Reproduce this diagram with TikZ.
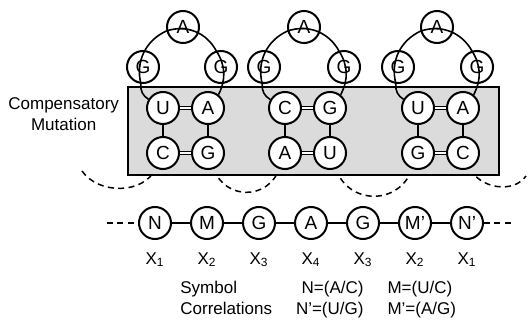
\documentclass[tikz,border=0pt]{standalone}
\usepackage{fontspec}
\setmainfont{Liberation Sans}
\usetikzlibrary{positioning,backgrounds}

\begin{document}
\begin{tikzpicture}[x=0.5pt,y=0.5pt,
    roundnode/.style = {circle, draw=black, fill=white, line width=1pt, minimum size=16pt, inner sep=0pt, font=\fontsize{9.5}{10}\selectfont},
    bond/.style = {line width=0.8pt},
    pairbond/.style = {line width=0.5pt, double, double distance=0.9pt},
    linkline/.style = {line width=0.75pt, dash pattern=on 3pt off 2.2pt},
    sublabel/.style = {font=\fontsize{8.5}{9}\selectfont, inner sep=1pt}]
     \useasboundingbox (0,0) rectangle (529,-320);

     % first hairpin
     \node[roundnode] (u1) at (163,-108) {U};
     \node[roundnode] (a1) [right=5.5pt of u1] {A};
     \node[roundnode] (c1) [below=5.5pt of u1] {C};
     \node[roundnode] (g1) [right=5.5pt of c1] {G};
     \node[roundnode] (gl1) at (143,-67) {G};
     \node[roundnode] (gr1) at (221,-67) {G};
     \node[roundnode] (top1) at (183,-27) {A};

     % second hairpin
     \node[roundnode] (c2) at (285,-108) {C};
     \node[roundnode] (g2) [right=5.5pt of c2] {G};
     \node[roundnode] (a2) [below=5.5pt of c2] {A};
     \node[roundnode] (u2) [right=5.5pt of a2] {U};
     \node[roundnode] (gl2) at (264,-67) {G};
     \node[roundnode] (gr2) at (344,-67) {G};
     \node[roundnode] (top2) at (304,-27) {A};

     % third hairpin
     \node[roundnode] (u3) at (418,-108) {U};
     \node[roundnode] (a3) [right=5.5pt of u3] {A};
     \node[roundnode] (g3) [below=5.5pt of u3] {G};
     \node[roundnode] (c3) [right=5.5pt of g3] {C};
     \node[roundnode] (gl3) at (398,-67) {G};
     \node[roundnode] (gr3) at (477,-67) {G};
     \node[roundnode] (top3) at (437,-27) {A};

     \draw[bond] (u1) to[bend left=33] (gl1) to[bend left=40] (top1) to[bend left=40] (gr1) to[bend left=30] (a1);
     \draw[bond] (c2) to[bend left=33] (gl2) to[bend left=40] (top2) to[bend left=40] (gr2) to[bend left=30] (g2);
     \draw[bond] (u3) to[bend left=33] (gl3) to[bend left=40] (top3) to[bend left=40] (gr3) to[bend left=30] (a3);
     \draw[bond] (u1) -- (c1);
     \draw[bond] (a1) -- (g1);
     \draw[bond] (c2) -- (a2);
     \draw[bond] (g2) -- (u2);
     \draw[bond] (u3) -- (g3);
     \draw[bond] (a3) -- (c3);
     \draw[pairbond] (u1) -- (a1);
     \draw[pairbond] (c1) -- (g1);
     \draw[pairbond] (c2) -- (g2);
     \draw[pairbond] (a2) -- (u2);
     \draw[pairbond] (u3) -- (a3);
     \draw[pairbond] (g3) -- (c3);

     \node[align=center, anchor=east, font=\fontsize{8.5}{10.5}\selectfont] (comp) at (126,-114) {Compensatory\\Mutation};

     % linking strands, under the box
     \coordinate (arcl) at (82,-171);
     \coordinate (arcr) at (526,-176);
     \begin{scope}[on background layer]
          \draw[linkline] (arcl) to[out=-55,in=-115] (c1);
          \draw[linkline] (g1) to[bend right=70, looseness=1.3] (a2);
          \draw[linkline] (u2) to[bend right=70, looseness=1.3] (g3);
          \draw[linkline] (c3) to[out=-65,in=-125] (arcr);
          \draw[line width=0.9pt, fill=black!14] (128,-87) rectangle (499,-175);
     \end{scope}

     % sequence
     \node[roundnode] (s1) at (155,-223) {N};
     \node[roundnode] (s2) [right=9pt of s1] {M};
     \node[roundnode] (s3) [right=9pt of s2] {G};
     \node[roundnode] (s4) [right=9pt of s3] {A};
     \node[roundnode] (s5) [right=9pt of s4] {G};
     \node[roundnode] (s6) [right=9pt of s5] {M’};
     \node[roundnode] (s7) [right=9pt of s6] {N’};
     \coordinate (lend) at (107,-223);
     \coordinate (rend) at (513,-223);
     \draw[linkline] (lend) -- (s1);
     \draw[bond] (s1) -- (s2) -- (s3) -- (s4) -- (s5) -- (s6) -- (s7);
     \draw[linkline] (s7) -- (rend);

     \node[sublabel] (x1) [below=5pt of s1] {X\textsubscript{1}};
     \node[sublabel] (x2) [below=5pt of s2] {X\textsubscript{2}};
     \node[sublabel] (x3) [below=5pt of s3] {X\textsubscript{3}};
     \node[sublabel] (x4) [below=5pt of s4] {X\textsubscript{4}};
     \node[sublabel] (x5) [below=5pt of s5] {X\textsubscript{3}};
     \node[sublabel] (x6) [below=5pt of s6] {X\textsubscript{2}};
     \node[sublabel] (x7) [below=5pt of s7] {X\textsubscript{1}};

     \node[anchor=west, inner sep=0pt, font=\fontsize{8.5}{10.5}\selectfont] (corr) at (180,-300)
          {\begin{tabular}{@{}lrl@{}}
           Symbol & N=(A/C) & M=(U/C)\\
           Correlations & N’=(U/G) & M’=(A/G)
           \end{tabular}};
\end{tikzpicture}
\end{document}
